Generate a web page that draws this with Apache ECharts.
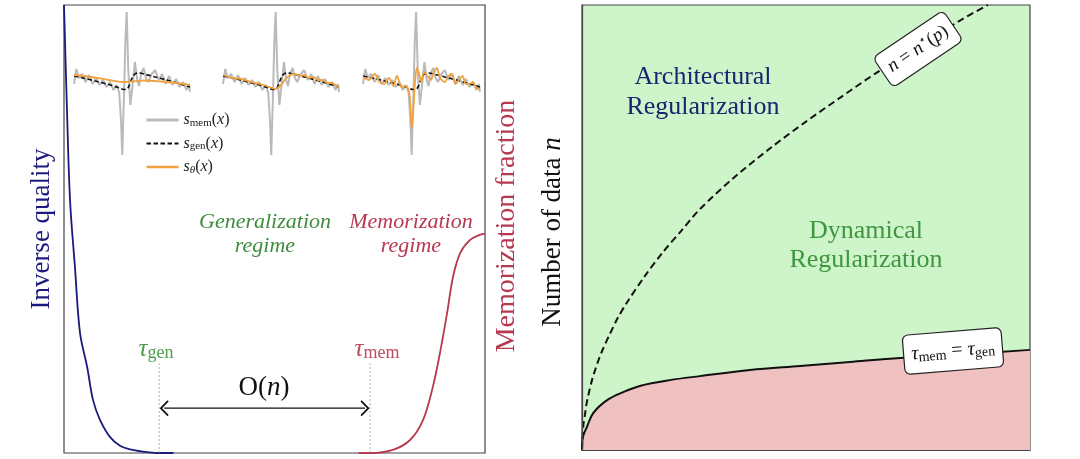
<!DOCTYPE html>
<html>
<head>
<meta charset="utf-8">
<script src="https://cdn.jsdelivr.net/npm/echarts@6/dist/echarts.min.js"></script>
<style>
  html, body { margin: 0; padding: 0; background: #fff; }
  #chart { width: 1080px; height: 459px; }
</style>
</head>
<body>
<div id="chart"></div>
<script>
// ---- left panel: training time t (0..1) against curve height (0..1)
const inverseQuality = [
  [0, 1], [0.0064, 0.788], [0.0143, 0.565], [0.026, 0.415], [0.038, 0.268],
  [0.055, 0.192], [0.069, 0.118], [0.0855, 0.074], [0.109, 0.036], [0.133, 0.016],
  [0.157, 0.008], [0.188, 0.003], [0.221, 0], [0.26, 0]
];
const memFraction = [
  [0.7, 0], [0.727, 0], [0.781, 0.007], [0.822, 0.029], [0.853, 0.074], [0.876, 0.147],
  [0.893, 0.223], [0.91, 0.3125], [0.924, 0.393], [0.941, 0.446], [0.964, 0.475],
  [0.988, 0.487], [1, 0.489]
];
const tauGen = 0.226;
const tauMem = 0.727;
const tauLineTop = 0.2;
const arrowLevel = 0.1;

// ---- insets: position u (0..100) against score value
const sMem = [
  [0, -4], [2, 11], [4, 2], [7, 6], [10, -2], [13, 5], [16, -4], [19, 2], [22, -5], [25, 0],
  [28, -7], [31, -2], [34, -10], [37, -5], [39, -13], [40.5, -40], [41.6, -75], [43.2, -10],
  [44.3, 40], [45.4, 68], [46.8, 10], [48.6, -25], [50.5, -5], [52.5, 18], [54.5, 0], [56, -6],
  [58, 7], [60, 12], [62, 2], [64, -2], [67, 6], [70, 10], [73, 0], [76, 6], [79, -4], [82, 4],
  [85, -5], [88, 1], [91, -7], [94, -2], [97, -10], [99, -4], [100, -12]
];
const sGen = [
  [0, 4], [10, 1.5], [20, -1.5], [30, -4.5], [38, -7.5], [43, -9.5], [45, -9.5], [47, -7],
  [49, -1], [51, 4], [53, 6.5], [56, 7], [62, 5.5], [70, 3], [80, 0], [90, -3.5], [100, -7]
];
const sTheta1 = [
  [0, 5], [15, 3], [30, 0], [42, -2], [50, -1.5], [60, -0.5], [75, -1.5], [88, -3], [100, -5]
];
const sTheta2 = [
  [0, 5], [8, 2], [16, 1], [24, -2], [32, -4], [40, -7], [45, -9], [50, -5], [54, 1], [58, 5],
  [62, 6], [66, 4], [70, 5], [74, 2], [78, 3], [82, 0], [86, 0], [90, -3], [94, -3], [98, -6], [100, -7]
];
const sTheta3 = [
  [0, 3], [5, 0], [10, 6], [14, -2], [18, -4], [22, 2], [26, -6], [29, 4], [33, -7], [36, -6],
  [39, -10], [40.5, -25], [41.6, -48], [43, -30], [44.5, -2], [46, 12], [48, 6], [50, -2], [52, 8],
  [55, 4], [58, 0], [60, 6], [63, 12], [66, 2], [70, -2], [73, 4], [76, 6], [79, -4], [82, 0],
  [85, 4], [88, -4], [91, -4], [94, -2], [97, -8], [100, -9]
];

// ---- right panel: p (0..1) against n (0..1)
const nStar = [
  [0, 0], [0.003, 0.055], [0.0067, 0.08], [0.01, 0.103], [0.0134, 0.12], [0.0223, 0.157],
  [0.03, 0.182], [0.038, 0.205], [0.045, 0.223], [0.06, 0.256], [0.08, 0.297], [0.1, 0.331],
  [0.141, 0.392], [0.181, 0.445], [0.221, 0.492], [0.261, 0.539], [0.339, 0.612], [0.42, 0.678],
  [0.5, 0.738], [0.578, 0.793], [0.658, 0.848], [0.75, 0.905], [0.842, 0.964], [0.906, 1.0]
];
const tauEqual = [
  [0, 0], [0.002, 0.029], [0.011, 0.052], [0.025, 0.083], [0.056, 0.112], [0.092, 0.13],
  [0.129, 0.144], [0.196, 0.157], [0.263, 0.166], [0.375, 0.18], [0.487, 0.189],
  [0.598, 0.198], [0.71, 0.207], [0.821, 0.213], [1, 0.225]
];

const serif = 'Liberation Serif';
const chevron = 'path://M0,10L10,0L20,10L18.4,11.6L10,3.2L1.6,11.6Z';

function axis(gridIndex, min, max, extra) {
  return Object.assign({
    type: 'value', gridIndex: gridIndex, min: min, max: max,
    axisLabel: { show: false }, axisTick: { show: false }, splitLine: { show: false },
    axisLine: { show: false }
  }, extra || {});
}
const frame = { z: 10, axisLine: { show: true, onZero: false, lineStyle: { color: '#444', width: 1.2 } } };

function insetSeries(i, theta) {
  return [
    { name: 's_mem', type: 'line', xAxisIndex: i, yAxisIndex: i, data: sMem, symbol: 'none',
      lineStyle: { color: '#bababa', width: 2 }, itemStyle: { color: '#bababa' } },
    { name: 's_gen', type: 'line', xAxisIndex: i, yAxisIndex: i, data: sGen, symbol: 'none', smooth: 0.3,
      lineStyle: { color: '#111', width: 1.6, type: [4.5, 2.5] }, itemStyle: { color: '#111' } },
    { name: 's_theta', type: 'line', xAxisIndex: i, yAxisIndex: i, data: theta, symbol: 'none', smooth: 0.3,
      lineStyle: { color: '#f0a23e', width: 1.8 }, itemStyle: { color: '#f0a23e' } }
  ];
}

const mathRich = {
  i: { fontFamily: serif, fontStyle: 'italic', fontSize: 16, lineHeight: 17, color: '#222' },
  r: { fontFamily: serif, fontSize: 16, lineHeight: 17, color: '#222' },
  sub: { fontFamily: serif, fontSize: 11, lineHeight: 8, verticalAlign: 'bottom', color: '#222' },
  subi: { fontFamily: serif, fontStyle: 'italic', fontSize: 11, lineHeight: 8, verticalAlign: 'bottom', color: '#222' }
};
const legendLabels = {
  s_mem: '{i|s}{sub|mem}{r|(}{i|x}{r|)}',
  s_gen: '{i|s}{sub|gen}{r|(}{i|x}{r|)}',
  s_theta: '{i|s}{subi|θ}{r|(}{i|x}{r|)}'
};

function rich(color, size, subSize) {
  return {
    i: { fontFamily: serif, fontStyle: 'italic', fontSize: size, lineHeight: size + 2, fill: color },
    r: { fontFamily: serif, fontSize: size, lineHeight: size + 2, fill: color },
    sub: { fontFamily: serif, fontSize: subSize, lineHeight: subSize - 2, verticalAlign: 'bottom', fill: color },
    sup: { fontFamily: serif, fontSize: subSize, lineHeight: subSize, verticalAlign: 'top', fill: color }
  };
}

const chart = echarts.init(document.getElementById('chart'));
chart.setOption({
  animation: false,
  backgroundColor: '#fff',
  grid: [
    { left: 64, top: 5, width: 421, height: 448, show: true, borderColor: '#444', borderWidth: 1.2, backgroundColor: '#fff' },
    { left: 74, top: 12, width: 116, height: 143 },
    { left: 223, top: 12, width: 116, height: 143 },
    { left: 363, top: 12, width: 117, height: 143 },
    { left: 582, top: 5, width: 448, height: 445, show: true, borderColor: '#444', borderWidth: 1.2, backgroundColor: '#cef4c9' }
  ],
  xAxis: [axis(0, 0, 1), axis(1, 0, 100), axis(2, 0, 100), axis(3, 0, 100), axis(4, 0, 1, frame)],
  yAxis: [axis(0, 0, 1), axis(1, -75, 68), axis(2, -75, 68), axis(3, -75, 68), axis(4, 0, 1, frame)],
  legend: {
    data: [
      { name: 's_mem', lineStyle: { width: 3 } },
      { name: 's_gen', lineStyle: { width: 2.2 } },
      { name: 's_theta', lineStyle: { width: 2.6 } }
    ],
    orient: 'vertical', left: 140, top: 107,
    itemWidth: 32, itemHeight: 14, itemGap: 7,
    itemStyle: { opacity: 0 },
    formatter: function (name) { return legendLabels[name]; },
    textStyle: { color: '#222', rich: mathRich }
  },
  series: [
    { name: 'inverse', type: 'line', data: inverseQuality, symbol: 'none', smooth: 0.35,
      lineStyle: { color: '#1b1b7d', width: 1.8 } },
    { name: 'memfrac', type: 'line', data: memFraction, symbol: 'none', smooth: 0.35,
      lineStyle: { color: '#b83850', width: 1.8 } },
    { name: 'tgen', type: 'line', data: [[tauGen, 0], [tauGen, tauLineTop]], symbol: 'none',
      lineStyle: { color: '#999', width: 0.8, type: [2, 2] } },
    { name: 'tmem', type: 'line', data: [[tauMem, 0], [tauMem, tauLineTop]], symbol: 'none',
      lineStyle: { color: '#999', width: 0.8, type: [2, 2] } },
    { name: 'span', type: 'line', symbol: chevron, symbolSize: [16, 9],
      data: [{ value: [tauGen + 0.012, arrowLevel], symbolRotate: 90 }, { value: [tauMem - 0.012, arrowLevel], symbolRotate: -90 }],
      lineStyle: { color: '#111', width: 1.3 }, itemStyle: { color: '#111' } },
    ...insetSeries(1, sTheta1),
    ...insetSeries(2, sTheta2),
    ...insetSeries(3, sTheta3),
    { name: 'boundary', type: 'line', xAxisIndex: 4, yAxisIndex: 4, data: tauEqual, symbol: 'none', smooth: 0.35,
      lineStyle: { color: '#111', width: 2 }, areaStyle: { color: '#efc1c1', opacity: 1 } },
    { name: 'nstar', type: 'line', xAxisIndex: 4, yAxisIndex: 4, data: nStar, symbol: 'none', smooth: 0.3,
      lineStyle: { color: '#111', width: 2, type: [7, 4] } }
  ],
  graphic: [
    { type: 'text', x: 42, y: 229, rotation: Math.PI / 2,
      style: { text: 'Inverse quality', fontFamily: serif, fontSize: 27, fill: '#1b1b7d', align: 'center', verticalAlign: 'middle' } },
    { type: 'text', x: 507, y: 226, rotation: Math.PI / 2,
      style: { text: 'Memorization fraction', fontFamily: serif, fontSize: 28, fill: '#b83850', align: 'center', verticalAlign: 'middle' } },
    { type: 'text', x: 553, y: 232, rotation: Math.PI / 2,
      style: { text: 'Number of data {i|n}', fontFamily: serif, fontSize: 27, fill: '#111', align: 'center', verticalAlign: 'middle',
        rich: rich('#111', 27, 18) } },
    { type: 'text', x: 265, y: 234,
      style: { text: 'Generalization\nregime', fontFamily: serif, fontStyle: 'italic', fontSize: 22, lineHeight: 24,
        fill: '#3f8c3f', align: 'center', verticalAlign: 'middle' } },
    { type: 'text', x: 411, y: 234,
      style: { text: 'Memorization\nregime', fontFamily: serif, fontStyle: 'italic', fontSize: 22, lineHeight: 24,
        fill: '#b83850', align: 'center', verticalAlign: 'middle' } },
    { type: 'text', x: 156, y: 349,
      style: { text: '{i|τ}{sub|gen}', align: 'center', verticalAlign: 'middle', rich: rich('#4c9c4c', 25, 18) } },
    { type: 'text', x: 377, y: 349,
      style: { text: '{i|τ}{sub|mem}', align: 'center', verticalAlign: 'middle', rich: rich('#c04a5e', 25, 18) } },
    { type: 'text', x: 264, y: 388,
      style: { text: '{r|O}{r|(}{i|n}{r|)}', align: 'center', verticalAlign: 'middle', rich: rich('#111', 27, 18) } },
    { type: 'text', x: 703, y: 92,
      style: { text: 'Architectural\nRegularization', fontFamily: serif, fontSize: 26, lineHeight: 30,
        fill: '#1a2470', align: 'center', verticalAlign: 'middle' } },
    { type: 'text', x: 866, y: 246,
      style: { text: 'Dynamical\nRegularization', fontFamily: serif, fontSize: 26, lineHeight: 29,
        fill: '#3f963f', align: 'center', verticalAlign: 'middle' } },
    { type: 'text', x: 826, y: 407,
      style: { text: 'Memorization', fontFamily: serif, fontSize: 26, fill: '#d34343', align: 'center', verticalAlign: 'middle' } },
    { type: 'text', x: 918, y: 49, rotation: 34 * Math.PI / 180, z: 20,
      style: { text: '{i|n}{r| = }{i|n}{sup|⋆}{r|(}{i|p}{r|)}', align: 'center', verticalAlign: 'middle',
        rich: rich('#111', 19, 12), backgroundColor: '#fff', borderColor: '#222', borderWidth: 1.2, borderRadius: 5, padding: [7, 7] } },
    { type: 'text', x: 953, y: 351, rotation: 4.6 * Math.PI / 180, z: 20,
      style: { text: '{i|τ}{sub|mem}{r| = }{i|τ}{sub|gen}', align: 'center', verticalAlign: 'middle',
        rich: rich('#111', 20, 14), backgroundColor: '#fff', borderColor: '#222', borderWidth: 1.2, borderRadius: 5, padding: [8, 7] } }
  ]
});
</script>
</body>
</html>
